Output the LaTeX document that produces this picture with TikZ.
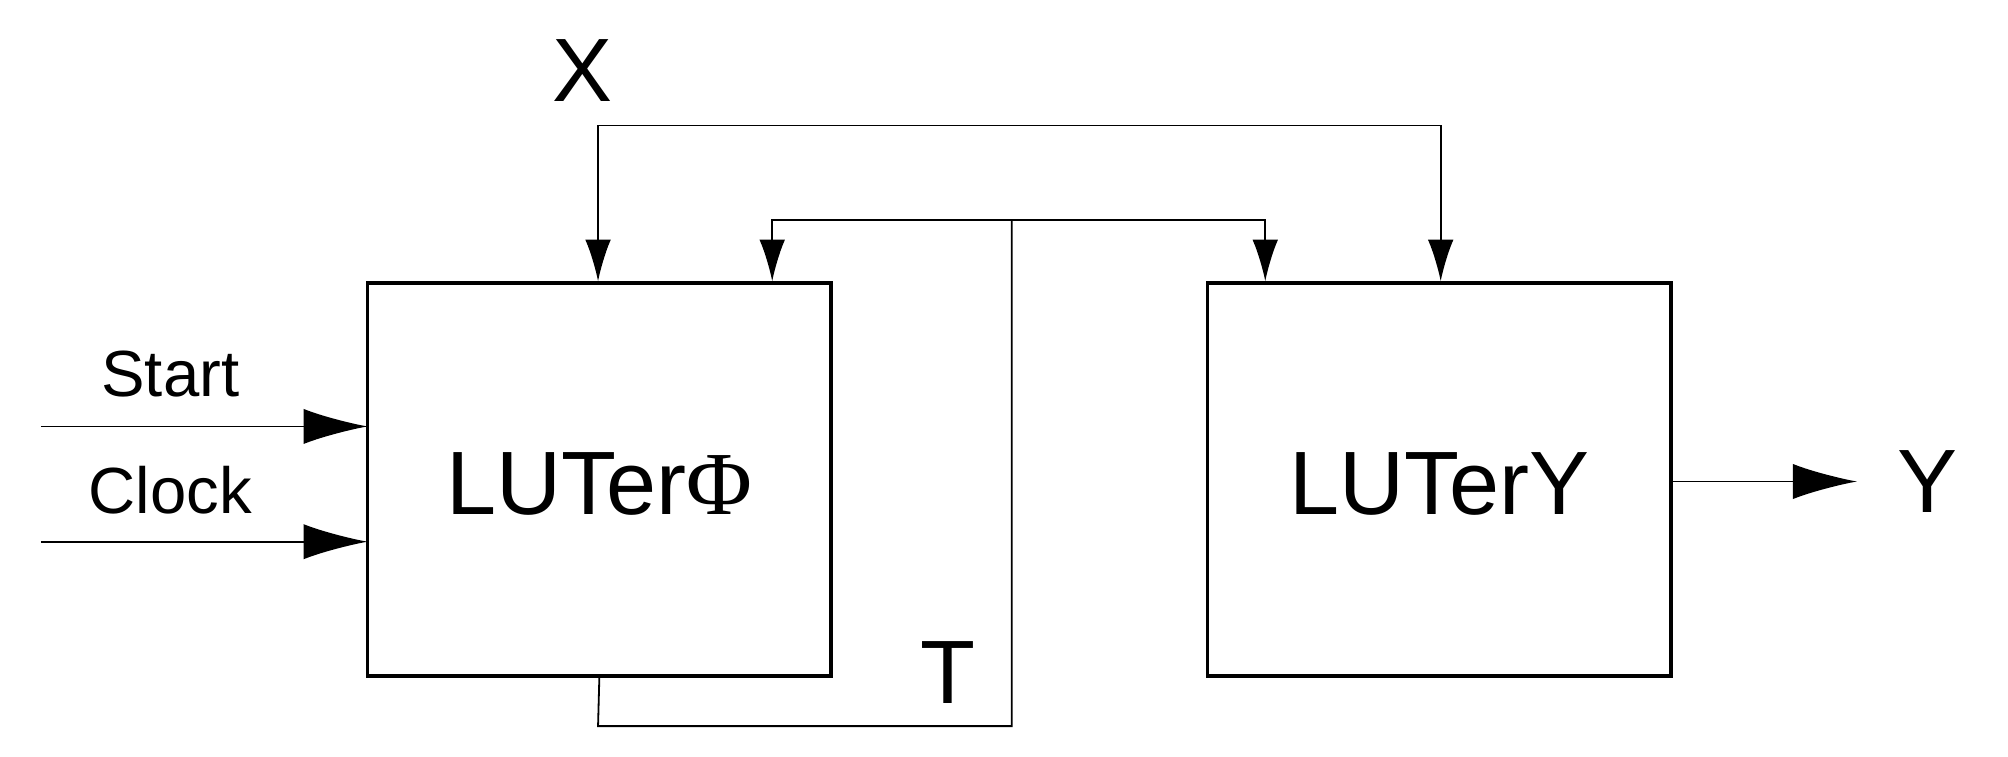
\documentclass[tikz,border=0pt]{standalone}
\usepackage{fontspec}
\setmainfont{Liberation Sans}
\newfontfamily\phifont{Liberation Serif}
\usetikzlibrary{arrows.meta}
\begin{document}
\begin{tikzpicture}[x=0.02cm,y=-0.02cm,
  blk/.style={draw,line width=1.6pt,minimum width=7.24cm,minimum height=6.14cm,inner sep=0pt},
  wire/.style={line width=0.8pt},
  bigarr/.style={wire,-{Latex[length=1cm,width=0.55cm]}},
  smallarr/.style={wire,-{Latex[length=0.65cm,width=0.4cm]}},
  big/.style={font=\fontsize{40}{44}\selectfont},
  mid/.style={font=\fontsize{29}{32}\selectfont}]
\useasboundingbox (0,0) rectangle (1568,591);
\node[blk] (L) at (468,374.5) {};
\node[blk] (R) at (1124,374.5) {};
\node[big] at (468,378) {LUTer{\phifont Φ}};
\node[big] at (1124,378) {LUTerY};
\node[big] (xl) at (455,55) {X};
\node[big] (tl) at (740,525) {T};
\node[big] (yl) at (1505,376) {Y};
\node[mid] (st) at (133,292) {Start};
\node[mid] (cl) at (133,383) {Clock};
\coordinate (s0) at (32,333);
\coordinate (c0) at (32,423);
\coordinate (o1) at (1450,376);
\draw[bigarr] (s0) -- (287,333);
\draw[bigarr] (c0) -- (287,423);
\draw[bigarr] (1305,376) -- (o1);
\draw[smallarr] (1125,98) -- (467,98) -- (L.north -| 467,0);
\draw[smallarr] (1125,98) -- (R.north -| 1125,0);
\draw[wire] (L.south) -- (467,567) -- (790,567) -- (790,172);
\draw[smallarr] (790,172) -- (603,172) -- (L.north -| 603,0);
\draw[smallarr] (790,172) -- (988,172) -- (R.north -| 988,0);
\end{tikzpicture}
\end{document}
